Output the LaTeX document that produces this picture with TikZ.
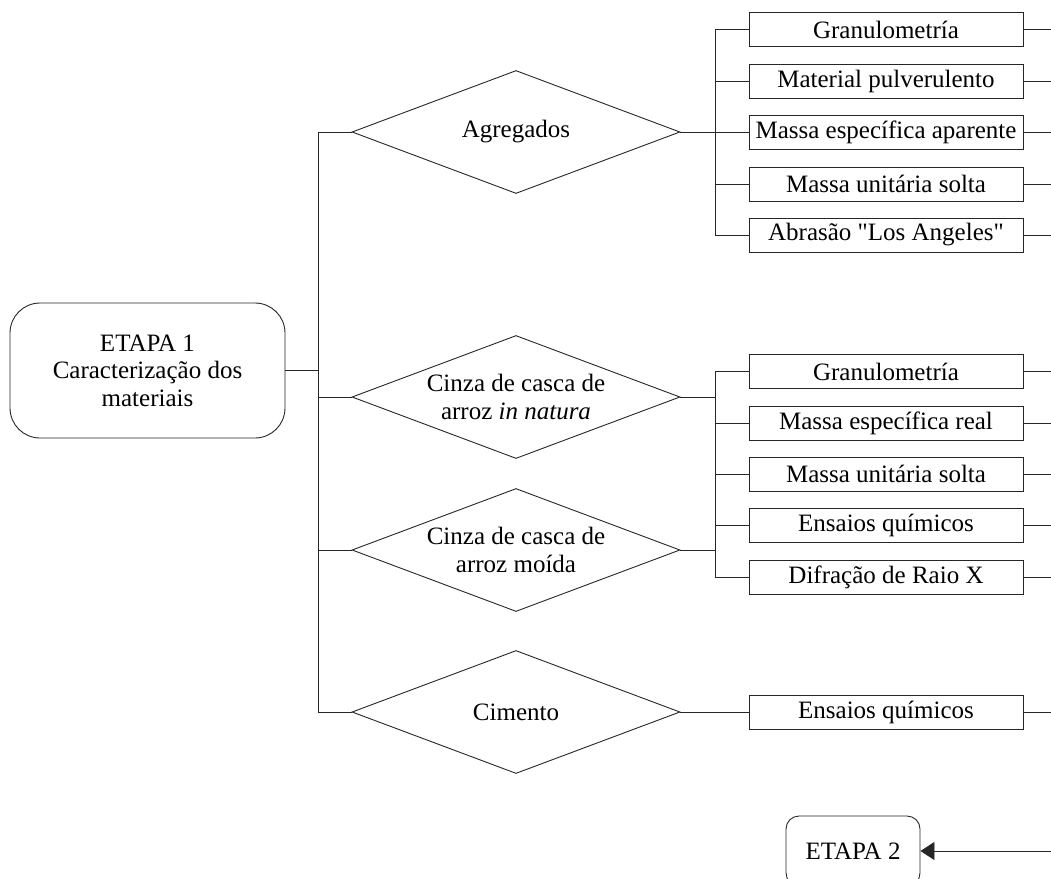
\documentclass[tikz,border=0pt]{standalone}
\usepackage{fontspec}
\setmainfont{Liberation Serif}[Ligatures=TeXOff]
\usetikzlibrary{shapes.geometric,arrows.meta}
\begin{document}
\begin{tikzpicture}[x=1pt,y=-1pt,
  every node/.style={font=\fontsize{25}{27.5}\selectfont, align=center},
  conn/.style={draw=black!85, line width=0.9pt},
  testbox/.style={draw=black!85, line width=0.9pt, rectangle, minimum width=274pt, minimum height=34pt, inner sep=0pt},
  group/.style={draw=black!85, line width=0.9pt, diamond, aspect=2.67, minimum width=328pt, minimum height=123pt, inner sep=0pt},
  grouptext/.style={inner sep=0pt},
  stage/.style={draw=black!85, line width=0.9pt, rectangle, inner sep=0pt}
]
\useasboundingbox (0,0) rectangle (1051,878);

% main stage
\node[stage, rounded corners=30pt, minimum width=275pt, minimum height=135pt] (e1) at (147.5,370.5)
  {ETAPA 1\\Caracterização dos\\materiais};

% groups
\node[group] (agr) at (516,132) {};
\node[grouptext] (agrT) at (agr.center) {Agregados};
\node[group] (nat) at (516,397) {};
\node[grouptext] (natT) at (nat.center) {Cinza de casca de\\arroz \textit{in natura}};
\node[group] (moi) at (516,550) {};
\node[grouptext] (moiT) at (moi.center) {Cinza de casca de\\arroz moída};
\node[group] (cim) at (516,712) {};
\node[grouptext] (cimT) at (cim.center) {Cimento};

% tests
\node[testbox] (a1) at (886,29.5) {Granulometría};
\node[testbox] (a2) at (886,81) {Material pulverulento};
\node[testbox] (a3) at (886,132) {Massa específica aparente};
\node[testbox] (a4) at (886,184) {Massa unitária solta};
\node[testbox] (a5) at (886,235) {Abrasão "Los Angeles"};

\node[testbox] (b1) at (886,371.5) {Granulometría};
\node[testbox] (b2) at (886,423) {Massa específica real};
\node[testbox] (b3) at (886,474) {Massa unitária solta};
\node[testbox] (b4) at (886,525) {Ensaios químicos};
\node[testbox] (b5) at (886,577) {Difração de Raio X};

\node[testbox] (c1) at (886,712) {Ensaios químicos};

\node[stage, rounded corners=13pt, minimum width=134pt, minimum height=70pt] (e2) at (853,851) {ETAPA 2};

% coordinates
\coordinate (tk) at (318,0);
\coordinate (va) at (715,0);
\coordinate (rt) at (1056,0);

% trunk
\draw[conn] (agr.west) -| (tk |- cim.west) -- (cim.west);
\draw[conn] (e1.east) -- (e1.east -| tk);
\draw[conn] (nat.west) -- (nat.west -| tk);
\draw[conn] (moi.west) -- (moi.west -| tk);

% group A
\draw[conn] (a1.west) -- (a1.west -| va) -- (a5.west -| va) -- (a5.west);
\draw[conn] (a2.west) -- (a2.west -| va);
\draw[conn] (a4.west) -- (a4.west -| va);
\draw[conn] (agr.east) -- (a3.west);

% group B
\draw[conn] (b1.west) -- (b1.west -| va) -- (b5.west -| va) -- (b5.west);
\draw[conn] (b2.west) -- (b2.west -| va);
\draw[conn] (b3.west) -- (b3.west -| va);
\draw[conn] (b4.west) -- (b4.west -| va);
\draw[conn] (nat.east) -- (nat.east -| va);
\draw[conn] (moi.east) -- (moi.east -| va);

% cimento
\draw[conn] (cim.east) -- (c1.west);

% right stubs
\foreach \n in {a1,a2,a3,a4,a5,b1,b2,b3,b4,b5,c1}
  \draw[conn] (\n.east) -- (\n.east -| rt);

% arrow to ETAPA 2
\coordinate (ar) at (1056,851);
\draw[conn, -{Triangle[length=14pt,width=18pt]}] (ar) -- (e2.east);
\end{tikzpicture}
\end{document}
